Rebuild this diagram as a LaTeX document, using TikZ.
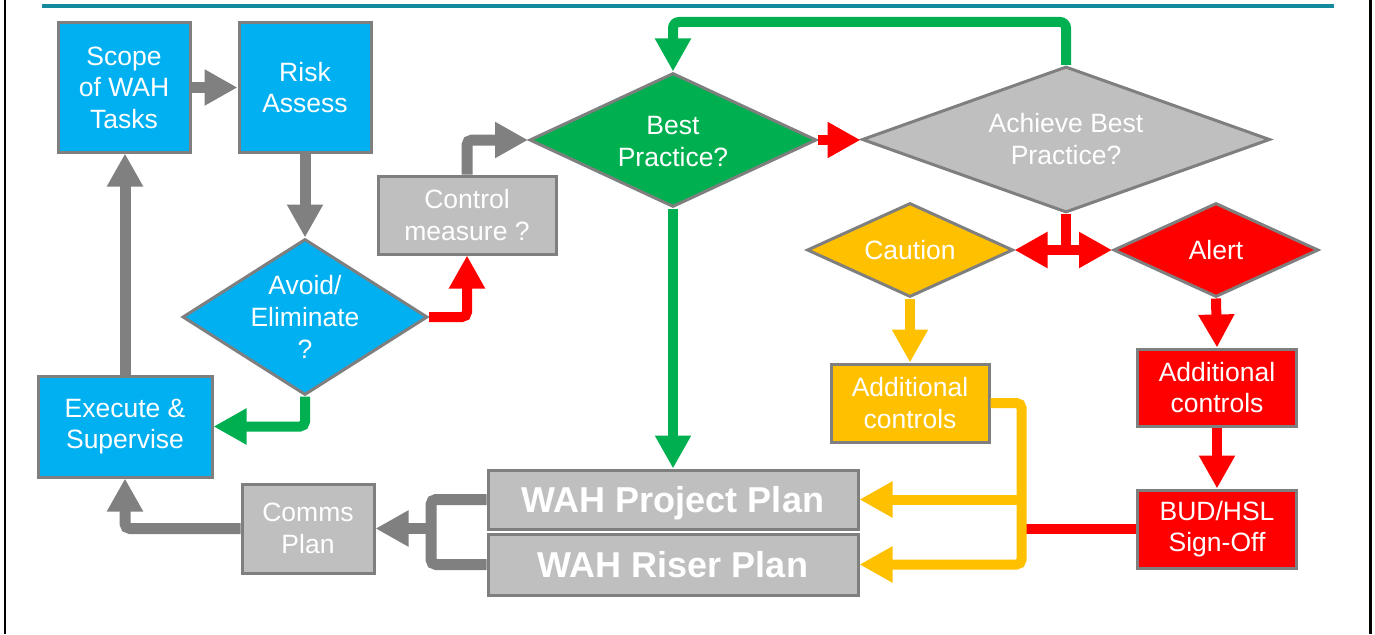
\documentclass[tikz,border=0pt]{standalone}
\usepackage{fontspec}
\setmainfont{Liberation Sans}
\usetikzlibrary{arrows.meta,shapes.geometric}

\definecolor{skyblue}{HTML}{00B0F0}
\definecolor{okgreen}{HTML}{00B050}
\definecolor{alertred}{HTML}{FF0000}
\definecolor{amber}{HTML}{FFC000}
\definecolor{lightgrey}{HTML}{BFBFBF}
\definecolor{edgegrey}{HTML}{7F7F7F}
\definecolor{arrowgrey}{HTML}{808080}
\definecolor{headrule}{RGB}{20,138,158}

\tikzset{
  box/.style={rectangle, draw=edgegrey, line width=3pt, text=white,
    align=center, inner sep=0pt, font=\fontsize{26.5}{31.5}\selectfont},
  dia/.style={diamond, draw=edgegrey, line width=3pt, inner sep=0pt},
  dtext/.style={text=white, align=center, inner sep=0pt,
    font=\fontsize{26.5}{32}\selectfont},
  plan/.style={box, fill=lightgrey, minimum width=370pt, text depth=0pt,
    font=\bfseries\fontsize{36}{40}\selectfont},
  tip/.style={-{Triangle[length=33pt,width=34pt]}},
  gline/.style={draw=arrowgrey, line width=11pt},
  gnline/.style={draw=okgreen, line width=10pt},
  rline/.style={draw=alertred, line width=10pt},
  oline/.style={draw=amber, line width=10pt},
}

\begin{document}
\begin{tikzpicture}[x=1pt,y=-1pt]
\path[use as bounding box] (0,0) rectangle (1375,634);

% frame and heading rule
\draw[black, line width=2.5pt] (5,0) -- (5,634);
\draw[black, line width=3pt] (1370.5,0) -- (1370.5,634);
\draw[headrule, line width=4pt] (42,6) -- (1334,6);

% rectangular steps
\node[box, fill=skyblue, minimum width=132pt, minimum height=129pt] (scope) at (124,87.5) {Scope\\of WAH\\Tasks};
\node[box, fill=skyblue, minimum width=132pt, minimum height=129pt] (risk) at (305,87.5) {Risk\\Assess};
\node[box, fill=skyblue, minimum width=174pt, minimum height=101pt] (exec) at (125,426.5) {Execute \&\\Supervise};
\node[box, fill=lightgrey, minimum width=178pt, minimum height=78pt] (ctrl) at (467,215) {Control\\measure ?};
\node[box, fill=lightgrey, minimum width=132pt, minimum height=89pt] (comms) at (308,528.5) {Comms\\Plan};
\node[plan, minimum height=59pt] (proj) at (673,499.5) {WAH Project Plan};
\node[plan, minimum height=61pt] (riser) at (673,564.5) {WAH Riser Plan};
\node[box, fill=amber, minimum width=158pt, minimum height=78pt] (addo) at (910,403) {Additional\\controls};
\node[box, fill=alertred, minimum width=159pt, minimum height=77pt] (addr) at (1217,387.5) {Additional\\controls};
\node[box, fill=alertred, minimum width=159pt, minimum height=78pt] (bud) at (1217,529) {BUD/HSL\\Sign-Off};

% decisions
\node[dia, fill=skyblue, minimum width=245pt, minimum height=156pt] (avoid) at (305,317) {};
\node[dtext] (avoidtext) at (avoid) {Avoid/\\Eliminate\\?};
\node[dia, fill=okgreen, minimum width=287pt, minimum height=134pt] (best) at (673,140) {};
\node[dtext] (besttext) at (673,141.5) {Best\\Practice?};
\node[dia, fill=lightgrey, minimum width=408pt, minimum height=146pt] (achieve) at (1066,139.5) {};
\node[dtext] (achievetext) at (achieve) {Achieve Best\\Practice?};
\node[dia, fill=amber, minimum width=206pt, minimum height=94pt] (caution) at (910,250) {};
\node[dtext] (cautiontext) at (caution) {Caution};
\node[dia, fill=alertred, minimum width=205pt, minimum height=94pt] (alert) at (1216,250) {};
\node[dtext] (alerttext) at (alert) {Alert};

% helper coordinates for routed connectors
\coordinate (looptop) at (0,22);
\coordinate (ojoin) at (1021.5,0);
\coordinate (gjoin) at (431,0);

% grey flow
\draw[gline, tip] (scope.east) -- (scope.east -| risk.west);
\draw[gline, tip] (risk.south) -- (risk.south |- avoid.north);
\draw[gline, tip, rounded corners=5pt] (ctrl.north) |- (best.west);
\draw[gline, rounded corners=5pt] (proj.west) -- (proj.west -| gjoin) -- (gjoin |- riser.west) -- (riser.west);
\draw[gline, tip] (gjoin |- comms.east) -- (comms.east);
\draw[gline, tip, rounded corners=5pt] (comms.west) -| (exec.south);
\draw[gline, tip] (exec.north) -- (exec.north |- scope.south);

% green flow
\draw[gnline, tip, rounded corners=5pt] (avoid.south) |- (exec.east);
\draw[gnline, tip] (best.south) -- (proj.north);
\draw[gnline, tip, rounded corners=6pt] (achieve.north) -- (achieve.north |- looptop) -| (best.north);

% red flow
\draw[rline, tip, rounded corners=5pt] (avoid.east) -| (ctrl.south);
\draw[rline, tip] (best.east) -- (best.east -| achieve.west);
\draw[rline, tip] (achieve.south) |- (caution.east);
\draw[rline, tip] (achieve.south) |- (alert.west);
\draw[rline, tip] (alert.south) -- (addr.north);
\draw[rline, tip] (addr.south) -- (bud.north);
\draw[rline] (bud.west) -- ([xshift=-5pt]bud.west -| ojoin);

% amber flow
\draw[oline, tip] (caution.south) -- (addo.north);
\draw[oline, tip, rounded corners=5pt] (addo.east) -- (addo.east -| ojoin) -- (ojoin |- riser.east) -- (riser.east);
\draw[oline, tip] (ojoin |- proj.east) -- (proj.east);
\end{tikzpicture}
\end{document}
